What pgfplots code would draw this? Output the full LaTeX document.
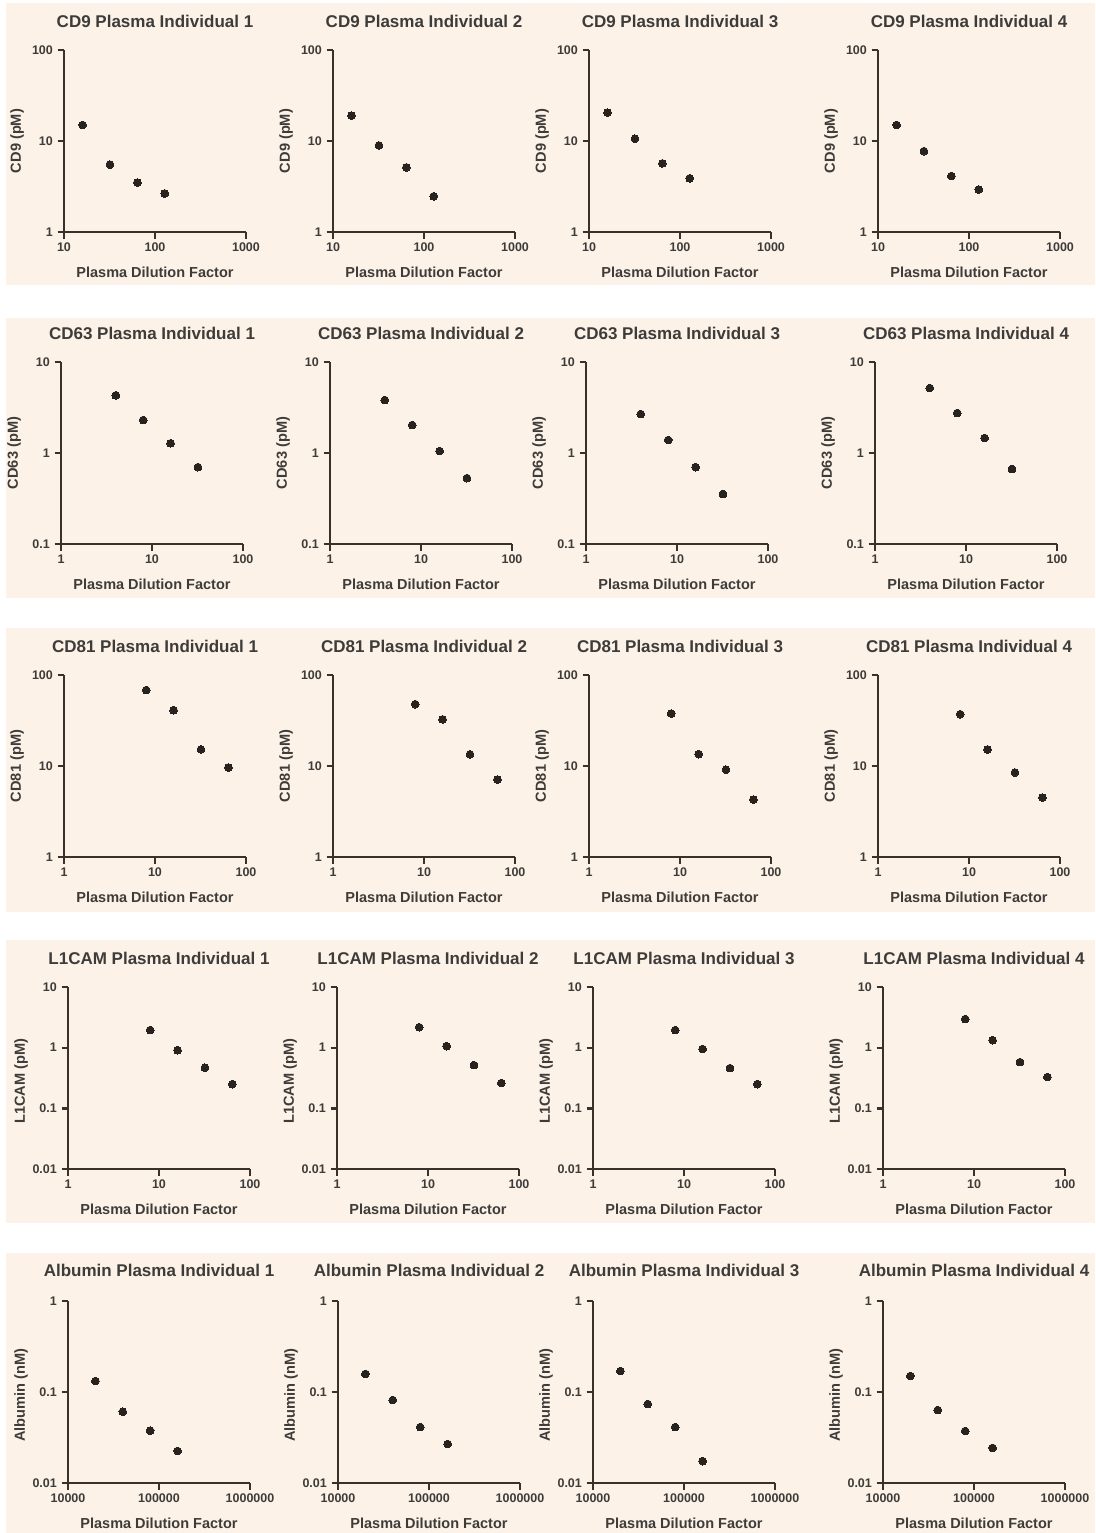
\documentclass[border=0pt]{standalone}
\usepackage{fontspec}
\setmainfont{Liberation Sans}
\usepackage{pgfplots}
\pgfplotsset{compat=1.18}
\definecolor{bg}{RGB}{252,242,231}
\definecolor{axc}{RGB}{58,50,42}
\definecolor{txt}{RGB}{62,60,58}
\definecolor{mk}{RGB}{40,35,30}

\pgfplotsset{
 every axis/.append style={line width=2.6pt},
 panel/.style={
  scale only axis, width=182pt, height=182pt,
  axis x line*=bottom, axis y line*=left,
  line width=2.6pt,
  x axis line style={line width=2.6pt, draw=axc, -},
  y axis line style={line width=2.6pt, draw=axc, -},
  every major tick/.append style={line width=2.3pt, draw=axc},
  major tick length=6.5pt, tick align=outside,
  xminorticks=false, yminorticks=false,
  clip=false,
  ticklabel style={font=\fontsize{12.5}{13}\selectfont\bfseries, text=txt},
  xlabel={Plasma Dilution Factor},
  every axis x label/.style={at={(axis description cs:0.5,0)}, yshift=-40pt, anchor=center, font=\fontsize{14.5}{15}\selectfont\bfseries, text=txt},
  every axis y label/.style={at={(axis description cs:0,0.5)}, xshift=-47pt, rotate=90, anchor=center, font=\fontsize{14.6}{15}\selectfont\bfseries, text=txt},
  every axis title/.style={at={(axis description cs:0.5,1)}, yshift=29pt, anchor=center, font=\fontsize{17}{18}\selectfont\bfseries, text=txt},
  every axis plot post/.append style={only marks, mark=*, mark size=3.9pt, color=mk, mark options={fill=mk, draw=mk, line width=0pt, solid}},
  anchor=south west,
 },
 rowA/.style={xmin=10,xmax=1000,ymin=1,ymax=100,
  xtick={10,100,1000}, xticklabels={10,100,1000},
  ytick={1,10,100}, yticklabels={1,10,100}, ylabel={CD9 (pM)}},
 rowB/.style={xmin=1,xmax=100,ymin=0.1,ymax=10,
  xtick={1,10,100}, xticklabels={1,10,100},
  ytick={0.1,1,10}, yticklabels={0.1,1,10}, ylabel={CD63 (pM)}},
 rowC/.style={xmin=1,xmax=100,ymin=1,ymax=100,
  xtick={1,10,100}, xticklabels={1,10,100},
  ytick={1,10,100}, yticklabels={1,10,100}, ylabel={CD81 (pM)}},
 rowD/.style={xmin=1,xmax=100,ymin=0.01,ymax=10,
  xtick={1,10,100}, xticklabels={1,10,100},
  ytick={0.01,0.1,1,10}, yticklabels={0.01,0.1,1,10}, ylabel={L1CAM (pM)},
  every axis y label/.append style={xshift=-3pt}},
 rowE/.style={xmin=10000,xmax=1000000,ymin=0.01,ymax=1,
  xtick={10000,100000,1000000}, xticklabels={10000,100000,1000000},
  ytick={0.01,0.1,1}, yticklabels={0.01,0.1,1}, ylabel={Albumin (nM)},
  every axis y label/.append style={xshift=-3pt},
  every axis title/.append style={yshift=2pt}},
}

\begin{document}
\begin{tikzpicture}
\useasboundingbox (0pt,0pt) rectangle (1095pt,-1533pt);
\fill[white] (0pt,0pt) rectangle (1095pt,-1533pt);
\fill[bg] (6pt,-3pt) rectangle (1095pt,-285pt);
\fill[bg] (6pt,-318pt) rectangle (1095pt,-598pt);
\fill[bg] (6pt,-628pt) rectangle (1095pt,-912pt);
\fill[bg] (6pt,-940pt) rectangle (1095pt,-1223pt);
\fill[bg] (6pt,-1253pt) rectangle (1095pt,-1533pt);

% Row 1: CD9
\begin{loglogaxis}[panel,rowA,at={(64pt,-232pt)},title={CD9 Plasma Individual 1}]
\addplot coordinates {(16,15.0) (32,5.50) (64,3.49) (128,2.65)};
\end{loglogaxis}
\begin{loglogaxis}[panel,rowA,at={(333pt,-232pt)},title={CD9 Plasma Individual 2}]
\addplot coordinates {(16,19.0) (32,8.93) (64,5.13) (128,2.47)};
\end{loglogaxis}
\begin{loglogaxis}[panel,rowA,at={(589pt,-232pt)},title={CD9 Plasma Individual 3}]
\addplot coordinates {(16,20.5) (32,10.6) (64,5.68) (128,3.89)};
\end{loglogaxis}
\begin{loglogaxis}[panel,rowA,at={(878pt,-232pt)},title={CD9 Plasma Individual 4}]
\addplot coordinates {(16,15.0) (32,7.74) (64,4.12) (128,2.93)};
\end{loglogaxis}

% Row 2: CD63
\begin{loglogaxis}[panel,rowB,at={(61pt,-544pt)},title={CD63 Plasma Individual 1}]
\addplot coordinates {(4,4.30) (8,2.30) (16,1.28) (32,0.70)};
\end{loglogaxis}
\begin{loglogaxis}[panel,rowB,at={(330pt,-544pt)},title={CD63 Plasma Individual 2}]
\addplot coordinates {(4,3.82) (8,2.03) (16,1.05) (32,0.53)};
\end{loglogaxis}
\begin{loglogaxis}[panel,rowB,at={(586pt,-544pt)},title={CD63 Plasma Individual 3}]
\addplot coordinates {(4,2.68) (8,1.39) (16,0.70) (32,0.354)};
\end{loglogaxis}
\begin{loglogaxis}[panel,rowB,at={(875pt,-544pt)},title={CD63 Plasma Individual 4}]
\addplot coordinates {(4,5.18) (8,2.75) (16,1.46) (32,0.667)};
\end{loglogaxis}

% Row 3: CD81
\begin{loglogaxis}[panel,rowC,at={(64pt,-857pt)},title={CD81 Plasma Individual 1}]
\addplot coordinates {(8,68.3) (16,41.0) (32,15.2) (64,9.62)};
\end{loglogaxis}
\begin{loglogaxis}[panel,rowC,at={(333pt,-857pt)},title={CD81 Plasma Individual 2}]
\addplot coordinates {(8,47.8) (16,32.6) (32,13.4) (64,7.09)};
\end{loglogaxis}
\begin{loglogaxis}[panel,rowC,at={(589pt,-857pt)},title={CD81 Plasma Individual 3}]
\addplot coordinates {(8,37.7) (16,13.5) (32,9.12) (64,4.27)};
\end{loglogaxis}
\begin{loglogaxis}[panel,rowC,at={(878pt,-857pt)},title={CD81 Plasma Individual 4}]
\addplot coordinates {(8,37.1) (16,15.2) (32,8.48) (64,4.49)};
\end{loglogaxis}

% Row 4: L1CAM
\begin{loglogaxis}[panel,rowD,at={(68pt,-1169pt)},title={L1CAM Plasma Individual 1}]
\addplot coordinates {(8,1.95) (16,0.91) (32,0.467) (64,0.251)};
\end{loglogaxis}
\begin{loglogaxis}[panel,rowD,at={(337pt,-1169pt)},title={L1CAM Plasma Individual 2}]
\addplot coordinates {(8,2.18) (16,1.06) (32,0.517) (64,0.261)};
\end{loglogaxis}
\begin{loglogaxis}[panel,rowD,at={(593pt,-1169pt)},title={L1CAM Plasma Individual 3}]
\addplot coordinates {(8,1.95) (16,0.95) (32,0.461) (64,0.251)};
\end{loglogaxis}
\begin{loglogaxis}[panel,rowD,at={(883pt,-1169pt)},title={L1CAM Plasma Individual 4}]
\addplot coordinates {(8,2.96) (16,1.33) (32,0.579) (64,0.328)};
\end{loglogaxis}

% Row 5: Albumin
\begin{loglogaxis}[panel,rowE,at={(68pt,-1483pt)},title={Albumin Plasma Individual 1}]
\addplot coordinates {(20000,0.132) (40000,0.0608) (80000,0.0376) (160000,0.0225)};
\end{loglogaxis}
\begin{loglogaxis}[panel,rowE,at={(338pt,-1483pt)},title={Albumin Plasma Individual 2}]
\addplot coordinates {(20000,0.158) (40000,0.0817) (80000,0.0412) (160000,0.0268)};
\end{loglogaxis}
\begin{loglogaxis}[panel,rowE,at={(593pt,-1483pt)},title={Albumin Plasma Individual 3}]
\addplot coordinates {(20000,0.170) (40000,0.0738) (80000,0.0412) (160000,0.0174)};
\end{loglogaxis}
\begin{loglogaxis}[panel,rowE,at={(883pt,-1483pt)},title={Albumin Plasma Individual 4}]
\addplot coordinates {(20000,0.150) (40000,0.0634) (80000,0.0373) (160000,0.0243)};
\end{loglogaxis}
\end{tikzpicture}
\end{document}
